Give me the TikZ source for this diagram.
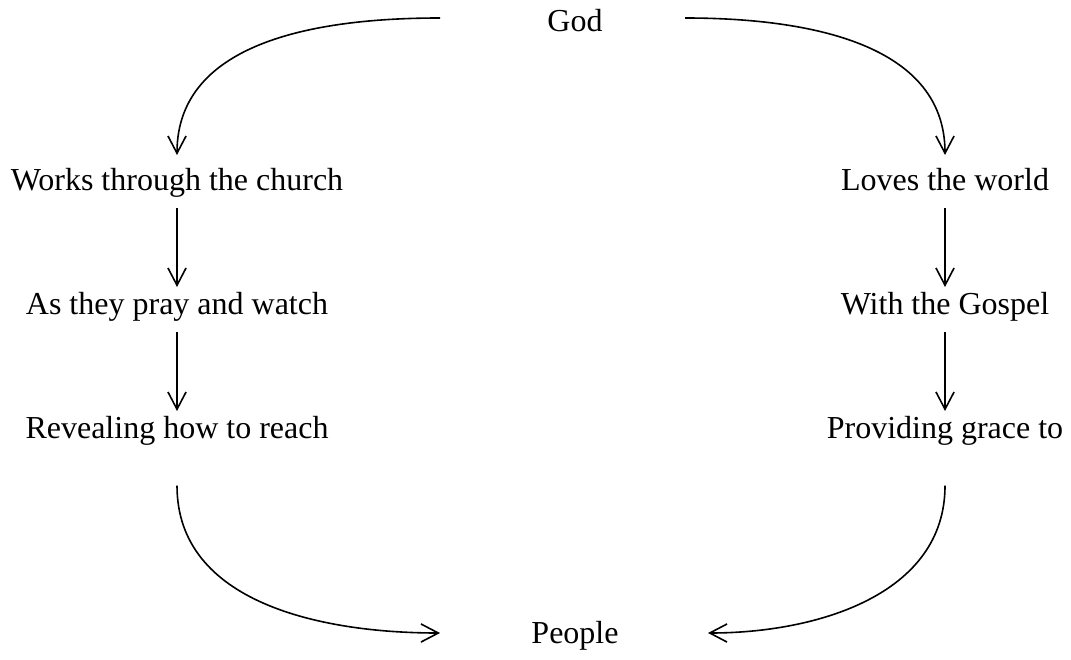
\documentclass[tikz,border=0pt]{standalone}
\usepackage{fontspec}
\setmainfont{Liberation Serif}
\usetikzlibrary{arrows.meta}

\begin{document}
\begin{tikzpicture}[
  x=0.375pt, y=-0.375pt,
  arrow/.style={-{Straight Barb[length=6.5pt, width=6.8pt]}, line width=0.6pt},
  label/.style={inner sep=0pt, outer sep=0pt, font=\fontsize{12pt}{14pt}\selectfont, text height=8.4pt, text depth=2.6pt}
]
\useasboundingbox (0,0) rectangle (1071,659);

\node[label] (god) at (575,24) {God};

\node[label] (works) at (177,183) {Works through the church};
\node[label] (pray) at (177,307) {As they pray and watch};
\node[label] (reveal) at (177,431) {Revealing how to reach};

\node[label] (loves) at (945,183) {Loves the world};
\node[label] (gospel) at (945,307) {With the Gospel};
\node[label] (grace) at (945,431) {Providing grace to};

\node[label] (people) at (575,636) {People};

\coordinate (godL) at (440,18);
\coordinate (godR) at (685,18);
\coordinate (peopleL) at (440,633);
\coordinate (peopleR) at (708,633);

\draw[arrow] (godL) to[out=180, in=90] ([yshift=5pt]works.north);
\draw[arrow] (godR) to[out=0, in=90] ([yshift=5pt]loves.north);

\draw[arrow] ([yshift=-4pt]works.south) -- ([yshift=2pt]pray.north);
\draw[arrow] ([yshift=-4pt]pray.south) -- ([yshift=2pt]reveal.north);
\draw[arrow] ([yshift=-4pt]loves.south) -- ([yshift=2pt]gospel.north);
\draw[arrow] ([yshift=-4pt]gospel.south) -- ([yshift=2pt]grace.north);

\draw[arrow] ([yshift=-15pt]reveal.south) to[out=-90, in=180] (peopleL);
\draw[arrow] ([yshift=-15pt]grace.south) to[out=-90, in=0] (peopleR);
\end{tikzpicture}
\end{document}
